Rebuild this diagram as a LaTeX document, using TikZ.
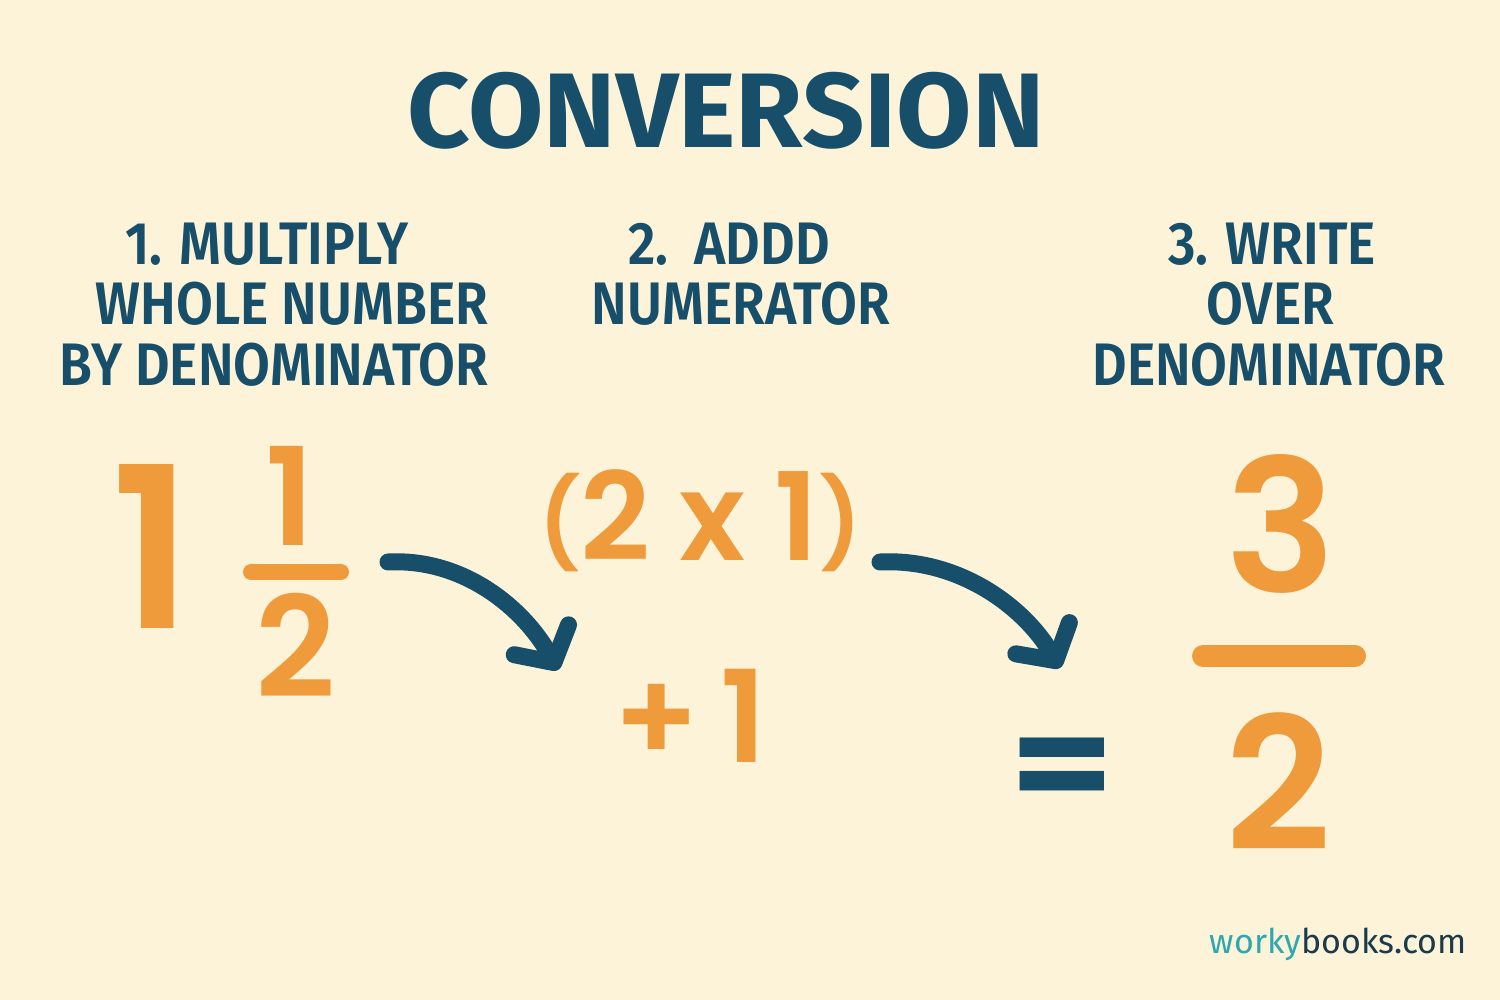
\documentclass[tikz,border=0pt]{standalone}
\usepackage{fontspec}
\setmainfont{Fira Sans}
\newfontfamily\headfont{Fira Sans}[UprightFont=*-SemiBold,FakeStretch=0.89]
\newfontfamily\titlefont{Fira Sans}[UprightFont=*-Bold,FakeStretch=1.03]
\newfontfamily\numfont{Poppins}[UprightFont=*-SemiBold]
\newfontfamily\eqfont{Fira Sans}[UprightFont=*-Bold]
\usetikzlibrary{arrows.meta}
\definecolor{bg}{HTML}{FDF3D9}
\definecolor{navy}{HTML}{174E6A}
\definecolor{orng}{HTML}{EF9A3B}
\definecolor{teal}{HTML}{2BA8B0}
\definecolor{logodark}{HTML}{1B3A4B}
\newcommand{\smparen}[1]{\raisebox{6pt}{\fontsize{88}{88}\selectfont #1}}
\begin{document}
\begin{tikzpicture}[x=1pt,y=-1pt,
  title/.style={text=navy,font=\titlefont\fontsize{106}{106}\selectfont,anchor=base,inner sep=0},
  head/.style={text=navy,font=\headfont\fontsize{60}{60}\selectfont,anchor=base,inner sep=0},
  num/.style={text=orng,anchor=base,inner sep=0},
  bar/.style={orng,line cap=round},
  curvearrow/.style={navy,line width=17pt,line cap=round,line join=round,
    -{Straight Barb[round,length=26pt,width=62pt]}}]
\fill[bg] (0,0) rectangle (1500,1000);
\useasboundingbox (0,0) rectangle (1500,1000);
% title
\node[title] (title) at (726,148) {CONVERSION};
% step headings
\node[head] (s1a) at (267,265) {1. MULTIPLY};
\node[head] (s1b) at (292,325) {WHOLE NUMBER};
\node[head] (s1c) at (274,385) {BY DENOMINATOR};
\node[head] (s2a) at (729,265) {2.\ \ ADDD};
\node[head] (s2b) at (741,325) {NUMERATOR};
\node[head] (s3a) at (1272,265) {3. WRITE};
\node[head] (s3b) at (1270,325) {OVER};
\node[head] (s3c) at (1269,385) {DENOMINATOR};
% mixed number
\node[num,font=\numfont\fontsize{225}{225}\selectfont] (whole) at (152,628) {1};
\node[num,font=\numfont\fontsize{136}{136}\selectfont] (n1) at (290,545) {1};
\draw[bar,line width=16pt] (251,572) -- (341,572);
\node[num,font=\numfont\fontsize{140}{140}\selectfont] (d1) at (296,697) {2};
% middle
\node[num,font=\numfont\fontsize{122}{122}\selectfont] (prod) at (700,560) {\smparen{(}2 x 1\smparen{)}};
\node[num,font=\numfont\fontsize{128}{128}\selectfont] (plus) at (690,762) {+\,1};
% result
\node[text=navy,font=\eqfont\fontsize{160}{160}\selectfont,anchor=center,inner sep=0] (eq) at (1062,778) {\scalebox{1.25}[1]{=}};
\node[num,font=\numfont\fontsize{185}{185}\selectfont] (n3) at (1281,592) {3};
\draw[bar,line width=22pt] (1203,656) -- (1355,656);
\node[num,font=\numfont\fontsize{185}{185}\selectfont] (d3) at (1279,850) {2};
% arrows
\coordinate (a1s) at (388,562);
\coordinate (a1e) at (558,670);
\coordinate (a2s) at (880,562);
\coordinate (a2e) at (1060,668);
\draw[curvearrow] (a1s) .. controls (465,558) and (525,610) .. (a1e);
\draw[curvearrow] (a2s) .. controls (960,558) and (1025,608) .. (a2e);
% logo
\node[anchor=base east,inner sep=0,font=\fontsize{34}{34}\selectfont] (logo) at (1467,953) {\textcolor{teal}{worky}\textcolor{logodark}{books.com}};
\end{tikzpicture}
\end{document}
